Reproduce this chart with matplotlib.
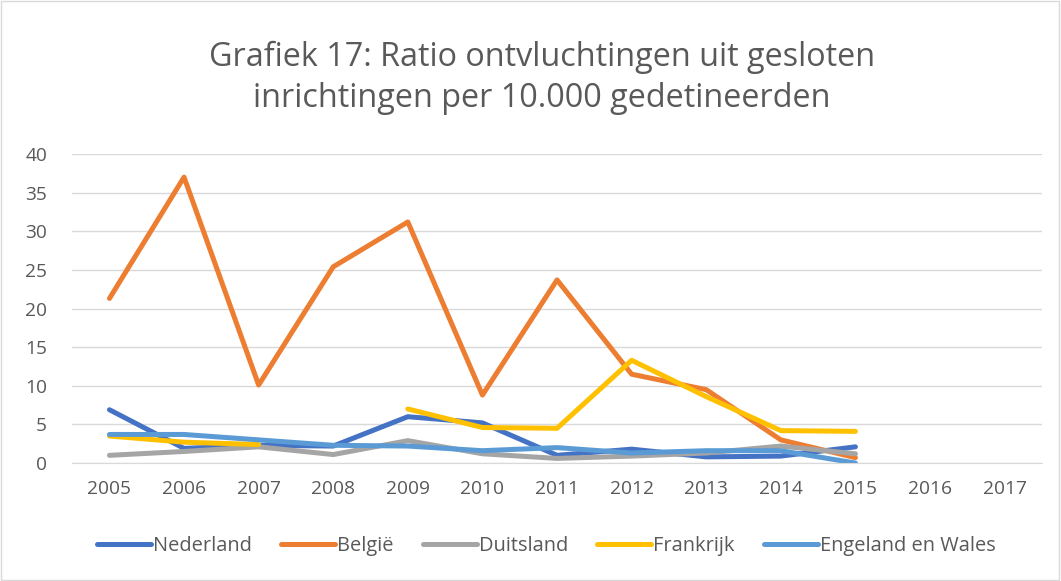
import numpy as np
import matplotlib.pyplot as plt
from matplotlib.patches import Rectangle

plt.rcParams['font.family'] = ['Open Sans', 'DejaVu Sans']

years = ['2005', '2006', '2007', '2008', '2009', '2010', '2011', '2012', '2013', '2014', '2015', '2016', '2017']
nan = np.nan
nederland = [6.9, 1.9, 2.3, 2.2, 6.0, 5.2, 1.0, 1.8, 0.8, 0.9, 2.1, nan, nan]
belgie = [21.3, 37.0, 10.1, 25.4, 31.2, 8.8, 23.7, 11.5, 9.5, 3.0, 0.7, nan, nan]
duitsland = [1.0, 1.5, 2.1, 1.1, 2.9, 1.2, 0.6, 0.9, 1.3, 2.2, 1.2, nan, nan]
frankrijk = [3.5, 2.7, 2.4, nan, 7.0, 4.6, 4.5, 13.3, 8.6, 4.2, 4.1, nan, nan]
engeland = [3.7, 3.7, 3.0, 2.3, 2.2, 1.6, 2.0, 1.3, 1.6, 1.6, 0.0, nan, nan]

series = [('Nederland', nederland, '#4472C4'),
          ('België', belgie, '#ED7D31'),
          ('Duitsland', duitsland, '#A5A5A5'),
          ('Frankrijk', frankrijk, '#FFC000'),
          ('Engeland en Wales', engeland, '#5B9BD5')]

txt = '#595959'
fig = plt.figure(figsize=(10.61, 5.81), dpi=100)
ax = fig.add_axes([0.068, 0.203, 0.914, 0.532])

x = np.arange(len(years))
for name, vals, col in series:
    ax.plot(x, vals, color=col, lw=3.6, label=name, solid_capstyle='round', solid_joinstyle='round')

ax.set_xlim(-0.5, len(years) - 0.5)
ax.set_ylim(0, 40)
ax.set_yticks(range(0, 41, 5))
ax.set_xticks(x)
ax.set_xticklabels(years)
ax.tick_params(length=0, labelsize=13.8, colors=txt)
ax.tick_params(axis='y', pad=18)
ax.tick_params(axis='x', pad=12)
ax.grid(axis='y', color='#D9D9D9', lw=1)
ax.set_axisbelow(True)
for s in ['top', 'right', 'left']:
    ax.spines[s].set_visible(False)
ax.spines['bottom'].set_color('#D9D9D9')

fig.text(0.511, 0.866, 'Grafiek 17: Ratio ontvluchtingen uit gesloten\ninrichtingen per 10.000 gedetineerden',
         ha='center', va='center', fontsize=23.3, color=txt, linespacing=1.35)

fig.legend(loc='center', bbox_to_anchor=(0.515, 1 - 546 / 581), ncol=5, frameon=False,
           fontsize=14.4, labelcolor=txt, handlelength=2.7, handletextpad=0.1, columnspacing=1.45)

fig.patches.append(Rectangle((0.001, 0.001), 0.997, 0.997, transform=fig.transFigure,
                             fill=False, edgecolor='#D9D9D9', lw=1))

fig.savefig('out.png', dpi=100)
